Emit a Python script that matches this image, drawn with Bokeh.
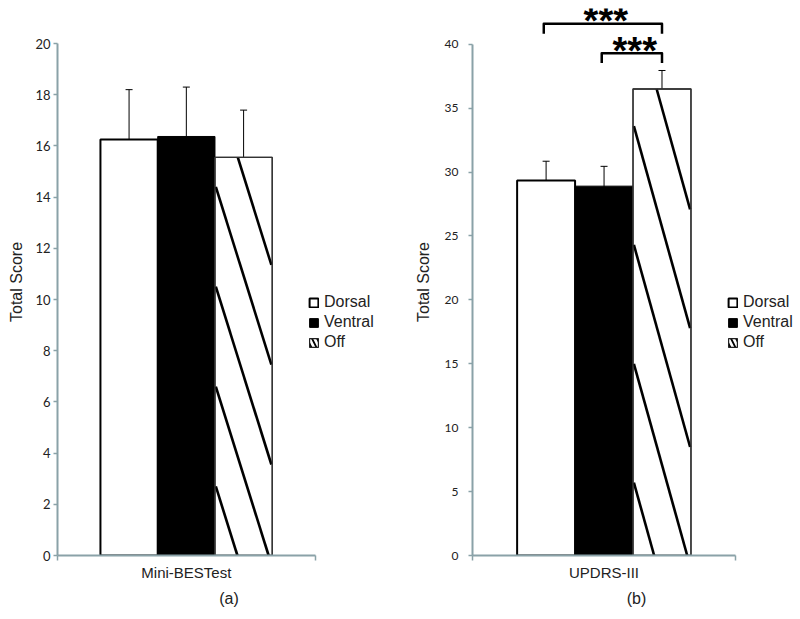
import numpy as np
from bokeh.plotting import figure
from bokeh.layouts import row
from bokeh.models import (Range1d, FixedTicker, Legend, LegendItem, Whisker,
                          ColumnDataSource, TeeHead)
from bokeh.embed import file_html
from bokeh.resources import INLINE
from bokeh.core.properties import value

# ---------------- data ----------------
conditions = ["Dorsal", "Ventral", "Off"]
mini_mean = [16.25, 16.37, 15.55]
mini_err = [1.95, 1.93, 1.85]
updrs_mean = [29.35, 28.9, 36.5]
updrs_err = [1.5, 1.55, 1.45]
test_names = ["Mini-BESTest", "UPDRS-III"]
panel_tags = ["(a)", "(b)"]
mini_yticks = [0, 2, 4, 6, 8, 10, 12, 14, 16, 18, 20]
updrs_yticks = [0, 5, 10, 15, 20, 25, 30, 35, 40]
sig_pairs = [("Dorsal", "Off"), ("Ventral", "Off")]
sig_levels = [41.6, 39.3]
sig_marks = ["***", "***"]

# ---------------- style ----------------
AXIS_COLOR = "#8aa2a8"
TEXT_COLOR = "#222222"
BAR_W = 1.0
FIG_H = 615
TOP_PAD = 8
FRAME_H = 547


def hatch_lines(xc, top, width, c0, spacing, slope):
    x0 = xc - width / 2
    xs, ys, xe, ye = [], [], [], []
    c = c0
    while c > 0:
        xa = x0 + max(0.0, (c - top) / slope)
        xb = x0 + min(width, c / slope)
        if xb > xa:
            xs.append(xa); ys.append(c - slope * (xa - x0))
            xe.append(xb); ye.append(c - slope * (xb - x0))
        c -= spacing
    return xs, ys, xe, ye


def make_panel(means, errs, yticks, name, tag, width, border_left, xr, yend,
               tick_font_size, tick_standoff, label_standoff, hatch, legend_loc,
               sig=None):
    xpos = list(np.arange(len(conditions)) - (len(conditions) - 1) / 2)
    p = figure(width=width, height=FIG_H, output_backend="svg", toolbar_location=None,
               title=None, x_range=Range1d(*xr), y_range=Range1d(0, yend),
               min_border_left=border_left, min_border_right=0, min_border_top=TOP_PAD,
               min_border_bottom=FIG_H - FRAME_H - TOP_PAD)
    p.outline_line_color = None
    p.xgrid.visible = False
    p.ygrid.visible = False
    p.background_fill_color = "white"
    p.border_fill_color = "white"

    styles = [dict(fill_color="white", line_color="black", line_width=2),
              dict(fill_color="black", line_color="black", line_width=1),
              dict(fill_color="white", line_color="#333333", line_width=1.3)]
    rends = []
    for i, c in enumerate(conditions):
        r = p.vbar(x=[xpos[i]], top=[means[i]], width=BAR_W, **styles[i])
        rends.append(r)

    # diagonal hatch of the "Off" bar
    i_off = conditions.index("Off")
    xs, ys, xe, ye = hatch_lines(xpos[i_off], means[i_off], BAR_W * 0.97, *hatch)
    p.segment(x0=xs, y0=ys, x1=xe, y1=ye, line_color="black", line_width=2.6)
    p.vbar(x=[xpos[i_off]], top=[means[i_off]], width=BAR_W, fill_alpha=0,
           line_color="#333333", line_width=1.3)

    # legend proxy for the hatched bar
    proxy = p.vbar(x=[xpos[i_off]], top=[means[i_off]], width=BAR_W,
                   fill_color="white", line_color="#222222", line_width=1.2,
                   hatch_pattern="\\", hatch_scale=10, hatch_weight=1.8,
                   hatch_color="black", visible=False)

    # error bars
    src = ColumnDataSource(dict(x=xpos,
                                upper=[m + e for m, e in zip(means, errs)],
                                lower=[m - e for m, e in zip(means, errs)]))
    w = Whisker(base="x", upper="upper", lower="lower", source=src,
                line_color="black", line_width=1,
                upper_head=TeeHead(size=7, line_color="black", line_width=1),
                lower_head=TeeHead(size=7, line_color="black", line_width=1))
    p.add_layout(w)

    # significance brackets
    if sig is not None:
        pairs, levels, marks = sig
        drop = 0.058 * (yticks[-1] - yticks[0]) / 3.0
        star_lift = 0.2
        for (a, b), lvl, mk in zip(pairs, levels, marks):
            xa = xpos[conditions.index(a)] - 0.04
            xb = xpos[conditions.index(b)]
            p.line(x=[xa, xa, xb, xb], y=[lvl - drop, lvl, lvl, lvl - drop],
                   line_color="black", line_width=2.5, line_join="round")
            p.text(x=[(xa + xb) / 2 + 0.05], y=[lvl + star_lift], text=[mk],
                   text_align="center", text_baseline="alphabetic",
                   text_font=value("Liberation Sans"), text_font_style="bold",
                   text_font_size="38px", text_color="black")

    # y axis
    ya = p.yaxis[0]
    ya.ticker = FixedTicker(ticks=yticks)
    ya.bounds = (yticks[0], yticks[-1])
    ya.axis_line_color = AXIS_COLOR
    ya.axis_line_width = 2
    ya.major_tick_line_color = AXIS_COLOR
    ya.major_tick_line_width = 1.5
    ya.major_tick_out = 4
    ya.major_tick_in = 0
    ya.minor_tick_out = 0
    ya.minor_tick_in = 0
    ya.major_label_text_font = "Lato"
    ya.major_label_text_font_size = tick_font_size
    ya.major_label_text_color = TEXT_COLOR
    ya.major_label_standoff = tick_standoff
    ya.axis_label = "Total Score"
    ya.axis_label_text_font = "Liberation Sans"
    ya.axis_label_text_font_style = "normal"
    ya.axis_label_text_font_size = "16px"
    ya.axis_label_text_color = TEXT_COLOR
    ya.axis_label_standoff = label_standoff

    # x axis (bounded, with end ticks)
    xlo, xhi = xr[0], -xr[0]
    xa_ = p.xaxis[0]
    xa_.ticker = FixedTicker(ticks=[0], minor_ticks=[xlo, xhi])
    xa_.bounds = (xlo, xhi)
    xa_.axis_line_color = AXIS_COLOR
    xa_.axis_line_width = 2
    xa_.major_tick_out = 0
    xa_.major_tick_in = 0
    xa_.minor_tick_out = 5
    xa_.minor_tick_in = 0
    xa_.minor_tick_line_color = AXIS_COLOR
    xa_.minor_tick_line_width = 1.5
    xa_.major_label_overrides = {0: name}
    xa_.major_label_text_font = "Liberation Sans"
    xa_.major_label_text_font_size = "15px"
    xa_.major_label_text_color = TEXT_COLOR
    xa_.major_label_standoff = 3
    xa_.axis_label = tag
    xa_.axis_label_text_font = "Liberation Sans"
    xa_.axis_label_text_font_style = "normal"
    xa_.axis_label_text_font_size = "16px"
    xa_.axis_label_text_color = TEXT_COLOR
    xa_.axis_label_standoff = 6

    legend = Legend(items=[LegendItem(label=conditions[0], renderers=[rends[0]]),
                           LegendItem(label=conditions[1], renderers=[rends[1]]),
                           LegendItem(label=conditions[2], renderers=[proxy])],
                    location=legend_loc, glyph_width=11, glyph_height=11,
                    label_height=20, label_standoff=5, spacing=0, padding=0,
                    margin=0, border_line_color=None, background_fill_alpha=0,
                    label_text_font="Liberation Sans", label_text_font_size="16px",
                    label_text_color=TEXT_COLOR)
    p.add_layout(legend)
    return p


p1 = make_panel(mini_mean, mini_err, mini_yticks, test_names[0], panel_tags[0],
                width=400, border_left=57, xr=(-2.25, 3.74), yend=21.37,
                tick_font_size="13px", tick_standoff=3, label_standoff=7,
                hatch=(18.3, 3.9, 7.16), legend_loc=(251, 203))
p2 = make_panel(updrs_mean, updrs_err, updrs_yticks, test_names[1], panel_tags[1],
                width=400, border_left=72, xr=(-2.27, 3.39), yend=42.8,
                tick_font_size="12px", tick_standoff=10, label_standoff=10,
                hatch=(42.9, 9.3, 16.3), legend_loc=(255, 203),
                sig=(sig_pairs, sig_levels, sig_marks))

layout = row(p1, p2)
open("out.html", "w").write(file_html(layout, INLINE))
